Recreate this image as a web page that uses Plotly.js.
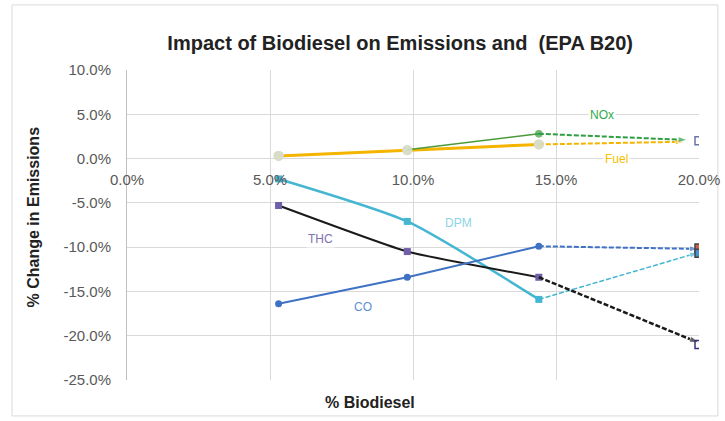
<!DOCTYPE html>
<html>
<head>
<meta charset="utf-8">
<script src="https://cdn.plot.ly/plotly-3.0.1.min.js"></script>
<style>
html,body{margin:0;padding:0;background:#fff;}
#chart{width:725px;height:421px;}
</style>
</head>
<body>
<div id="chart"></div>
<script>
// Blend levels (% biodiesel) for the measured points
const blendPct = [5.3, 9.8, 14.4];
// EPA B20 reference blend
const b20Pct = 20;

// % change in emissions at each blend
const fuel = [0.3, 0.95, 1.6];
const nox  = [0.4, 1.0, 2.8];
const dpm  = [-2.3, -7.1, -15.9];
const thc  = [-5.3, -10.5, -13.4];
const co   = [-16.4, -13.4, -9.9];

// Extrapolation end points (dashed) toward B20
const fuelEndX = 19.5, fuelEnd = 1.9;
const noxEndX  = 19.6, noxEnd  = 2.1;
const dpmEnd   = -10.6;
const thcEnd   = -20.8;
const coEnd    = -10.2;

// EPA B20 values
const epaLabels = ['NOx', 'CO', 'DPM', 'THC'];
const epaB20    = [2.0, -10.1, -10.7, -21.0];

const xTicks = [0, 5, 10, 15, 20];
const xTickText = ['0.0%', '5.0%', '10.0%', '15.0%', '20.0%'];
const yTicks = [10, 5, 0, -5, -10, -15, -20, -25];
const yTickText = ['10.0%', '5.0%', '0.0%', '-5.0%', '-10.0%', '-15.0%', '-20.0%', '-25.0%'];

const FONT = 'Liberation Sans, Arial, sans-serif';
const C = {
  fuel: '#F5B400', fuelMk: '#D8DDC6',
  nox: '#2E9E44',
  dpm: '#45B6D2',
  thc: '#1a1a1a', thcMk: '#6E5FA8',
  co: '#3F72C4'
};

function seg(x0, y0, x1, y1, color, width, name) {
  return {
    x: [x0, x1], y: [y0, y1], mode: 'lines+markers', type: 'scatter', name: name,
    line: {color: color, width: width, dash: '5px,2px'},
    marker: {symbol: ['circle', 'arrow'], size: [0, 10], angleref: 'previous', color: color},
    hoverinfo: 'skip', showlegend: false
  };
}

const traces = [
  // Fuel
  {x: blendPct, y: fuel, mode: 'lines+markers', type: 'scatter', name: 'Fuel',
   line: {color: C.fuel, width: 3}, marker: {symbol: 'circle', size: 10, color: C.fuelMk}},
  seg(blendPct[2], fuel[2], fuelEndX, fuelEnd, C.fuel, 2, 'Fuel'),
  // NOx
  {x: blendPct.slice(1), y: nox.slice(1), mode: 'lines+markers', type: 'scatter', name: 'NOx',
   line: {color: '#4C9A3A', width: 1.5}, marker: {symbol: 'circle', size: [0, 7], color: C.nox}},
  seg(blendPct[2], nox[2], noxEndX, noxEnd, C.nox, 2, 'NOx'),
  // Fuel markers drawn over NOx start
  {x: blendPct, y: fuel, mode: 'markers', type: 'scatter',
   marker: {symbol: 'circle', size: 10, color: C.fuelMk, opacity: 0.9}, showlegend: false, hoverinfo: 'skip'},
  // DPM
  {x: blendPct, y: dpm, mode: 'lines+markers', type: 'scatter', name: 'DPM',
   line: {color: C.dpm, width: 2.5, shape: 'spline', smoothing: 0.6}, marker: {symbol: 'square', size: 7, color: C.dpm}},
  seg(blendPct[2], dpm[2], b20Pct, dpmEnd, C.dpm, 1.5, 'DPM'),
  // THC
  {x: blendPct, y: thc, mode: 'lines+markers', type: 'scatter', name: 'THC',
   line: {color: C.thc, width: 2, shape: 'spline', smoothing: 0.4}, marker: {symbol: 'square', size: 7, color: C.thcMk}},
  seg(blendPct[2], thc[2], b20Pct, thcEnd, C.thc, 2.5, 'THC'),
  // CO
  {x: blendPct, y: co, mode: 'lines+markers', type: 'scatter', name: 'CO',
   line: {color: C.co, width: 2}, marker: {symbol: 'circle', size: 7, color: C.co}},
  seg(blendPct[2], co[2], b20Pct, coEnd, C.co, 2, 'CO'),
  // EPA B20 markers
  {x: epaLabels.map(() => b20Pct), y: epaB20, mode: 'markers', type: 'scatter', name: 'EPA B20',
   text: epaLabels,
   marker: {symbol: ['square-open', 'square', 'square', 'square-open'], size: 8,
            color: ['#6B74A8', '#D0604A', '#4A90D0', '#3A2F7A'], line: {width: 1.5}},
   showlegend: false}
];

const labelFont = {family: FONT, size: 12};
const annotations = [
  {x: 16.6, y: 4.9, text: 'NOx', font: Object.assign({color: '#2EAA4A'}, labelFont)},
  {x: 17.1, y: 0, text: 'Fuel', font: Object.assign({color: '#F5C000'}, labelFont)},
  {x: 11.6, y: -7.3, text: 'DPM', font: Object.assign({color: '#8CD4E8'}, labelFont)},
  {x: 6.75, y: -9.1, text: 'THC', font: Object.assign({color: '#7E72B0'}, labelFont)},
  {x: 8.25, y: -16.8, text: 'CO', font: Object.assign({color: '#5B8FD6'}, labelFont)}
].map(a => Object.assign({xref: 'x', yref: 'y', showarrow: false, bgcolor: '#ffffff', borderpad: 1,
                          xanchor: 'center', yanchor: 'middle'}, a));

annotations.push(
  {xref: 'paper', yref: 'paper', x: 0.425, y: -0.074, xanchor: 'center', yanchor: 'middle', showarrow: false,
   text: '<b>% Biodiesel</b>', font: {family: FONT, size: 16, color: '#222'}},
  {xref: 'paper', yref: 'paper', x: -0.164, y: 0.525, xanchor: 'center', yanchor: 'middle', showarrow: false, textangle: -90,
   text: '<b>% Change in Emissions</b>', font: {family: FONT, size: 16, color: '#222'}}
);

const layout = {
  width: 725, height: 421,
  margin: {l: 127, r: 26, t: 70, b: 41},
  paper_bgcolor: '#ffffff', plot_bgcolor: '#ffffff',
  showlegend: false,
  font: {family: FONT, size: 15, color: '#595959'},
  title: {text: '<b>Impact of Biodiesel on Emissions and  (EPA B20)</b>',
          x: 0.552, xanchor: 'center', y: 0.898, yanchor: 'middle',
          font: {family: FONT, size: 20, color: '#222'}},
  xaxis: {range: [0, 20], tickvals: xTicks, ticktext: xTickText,
          anchor: 'free', position: 25 / 35,
          showgrid: true, gridcolor: '#D9D9D9', gridwidth: 1,
          zeroline: false, showline: false,
          ticks: 'outside', ticklen: 7, tickcolor: 'rgba(0,0,0,0)',
          tickfont: {size: 15, color: '#595959'}},
  yaxis: {range: [-25, 10], tickvals: yTicks, ticktext: yTickText,
          showgrid: true, gridcolor: '#D9D9D9', gridwidth: 1,
          zeroline: false, showline: true, linecolor: '#BFBFBF', linewidth: 1,
          ticks: 'outside', ticklen: 12, tickcolor: 'rgba(0,0,0,0)',
          tickfont: {size: 15, color: '#595959'}},
  annotations: annotations,
  shapes: [
    {type: 'rect', xref: 'paper', yref: 'paper', x0: -0.201, x1: 1.033, y0: -0.116, y1: 1.21,
     line: {color: '#D9D9D9', width: 1}, fillcolor: 'rgba(0,0,0,0)', layer: 'below'}
  ]
};

Plotly.newPlot('chart', traces, layout, {displayModeBar: false, staticPlot: true});
</script>
</body>
</html>
